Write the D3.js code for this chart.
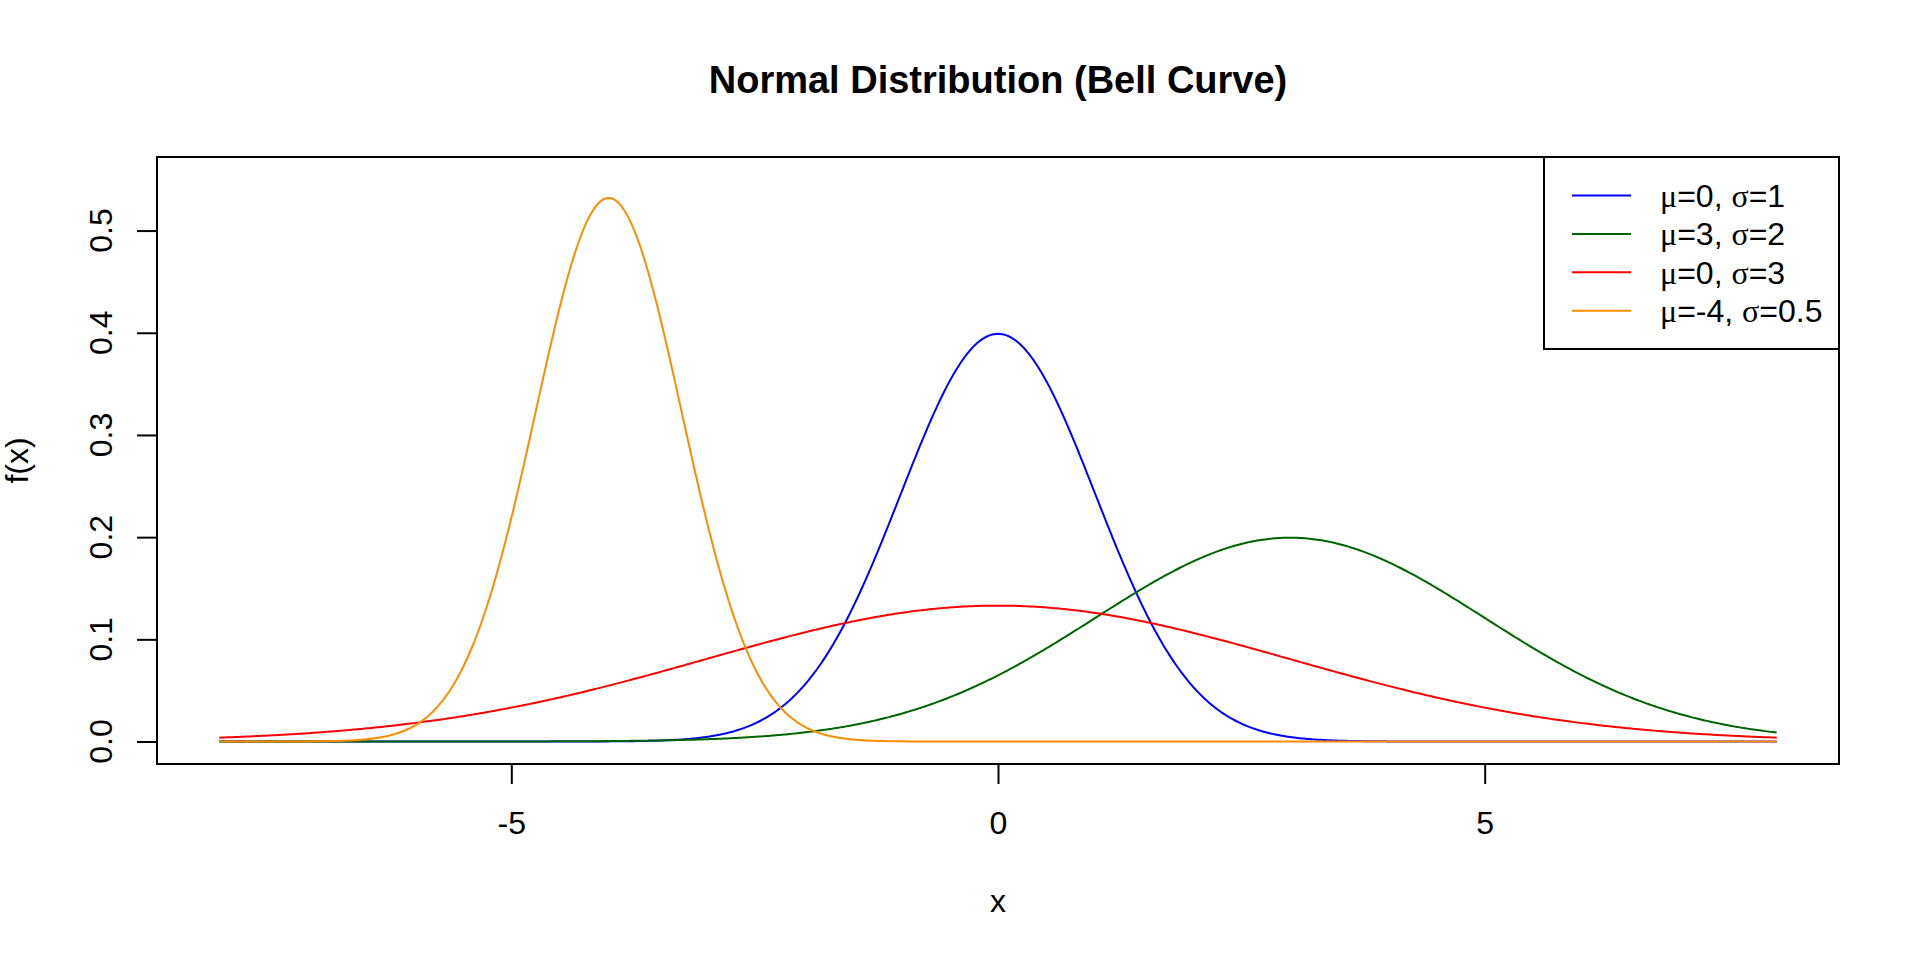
<!DOCTYPE html>
<meta charset="utf-8">
<style>
 body { margin: 0; background: white; }
 svg { display: block; font-family: 'Liberation Sans', Arial, Helvetica, sans-serif; }
 .greek { font-family: 'Liberation Serif', 'DejaVu Serif', serif; }
</style>

<svg width="1920" height="960"></svg>

<script src="https://d3js.org/d3.v7.min.js"></script>
<script>
 // distribution parameters (orange peak sits at ~0.532, i.e. sigma 0.75)
 var mus = [0, 3, 0, -4];
 var sigmas = [1, 2, 3, 0.75];
 var colors = ['#0000ff', '#006400', '#ff0000', '#ff8c00'];
 var labels = [['0', '1'], ['3', '2'], ['0', '3'], ['-4', '0.5']];
 var xTicks = [-5, 0, 5];
 var yTicks = [0, 0.1, 0.2, 0.3, 0.4, 0.5];
 var xLim = [-8, 8];
 var yLim = [0, 0.55];

 var svg = d3.select('svg');
 var plotL = 157, plotR = 1839, plotT = 157, plotB = 764;

 // R style 4% axis extension
 function extend(lim) {
     var d = (lim[1] - lim[0]) * 0.04;
     return [lim[0] - d, lim[1] + d];
 }
 var x = d3.scaleLinear().domain(extend(xLim)).range([plotL, plotR]);
 var y = d3.scaleLinear().domain(extend(yLim)).range([plotB, plotT]);

 function dnorm(v, mu, s) {
     return Math.exp(-0.5 * Math.pow((v - mu) / s, 2)) / (s * Math.sqrt(2 * Math.PI));
 }
 var grid = d3.range(xLim[0], xLim[1] + 1e-9, (xLim[1] - xLim[0]) / 800);

 var line = d3.line()
     .x(function(d) { return x(d[0]); })
     .y(function(d) { return y(d[1]); });

 // curves
 mus.forEach(function(mu, i) {
     svg.append('path')
         .datum(grid.map(function(v) { return [v, dnorm(v, mu, sigmas[i])]; }))
         .attr('d', line)
         .attr('fill', 'none')
         .attr('stroke', colors[i])
         .attr('stroke-width', 2);
 });

 // axes
 var xAxis = svg.append('g')
     .attr('transform', 'translate(0,' + plotB + ')')
     .call(d3.axisBottom(x).tickValues(xTicks).tickSize(20).tickSizeOuter(0).tickPadding(27)
         .tickFormat(function(d) { return String(d); }));
 xAxis.select('.domain').remove();
 xAxis.selectAll('line').attr('stroke-width', 2);
 xAxis.selectAll('text').attr('font-size', 32).attr('fill', '#000');
 xAxis.attr('font-family', null).attr('font-size', null);

 var yAxis = svg.append('g')
     .attr('transform', 'translate(' + plotL + ',0)')
     .call(d3.axisLeft(y).tickValues(yTicks).tickSize(20).tickSizeOuter(0).tickFormat(''));
 yAxis.select('.domain').remove();
 yAxis.selectAll('line').attr('stroke-width', 2);

 svg.append('g').selectAll('text')
     .data(yTicks)
     .join('text')
     .attr('transform', function(d) { return 'translate(112,' + y(d) + ') rotate(-90)'; })
     .attr('text-anchor', 'middle')
     .attr('font-size', 32)
     .text(function(d) { return d3.format('.1f')(d); });

 // frame
 svg.append('rect')
     .attr('x', plotL).attr('y', plotT)
     .attr('width', plotR - plotL).attr('height', plotB - plotT)
     .attr('fill', 'none').attr('stroke', '#000').attr('stroke-width', 2);

 // titles
 svg.append('text')
     .attr('x', (plotL + plotR) / 2).attr('y', 93)
     .attr('text-anchor', 'middle')
     .attr('font-size', 38).attr('font-weight', 'bold')
     .text('Normal Distribution (Bell Curve)');

 svg.append('text')
     .attr('x', (plotL + plotR) / 2).attr('y', 912)
     .attr('text-anchor', 'middle')
     .attr('font-size', 32)
     .text('x');

 svg.append('text')
     .attr('transform', 'translate(28,' + (plotT + plotB) / 2 + ') rotate(-90)')
     .attr('text-anchor', 'middle')
     .attr('font-size', 32)
     .text('f(x)');

 // legend
 var legend = svg.append('g');
 legend.append('rect')
     .attr('x', plotR - 295).attr('y', plotT)
     .attr('width', 295).attr('height', 192)
     .attr('fill', 'white').attr('stroke', '#000').attr('stroke-width', 2);

 labels.forEach(function(lab, i) {
     var ry = plotT + 38.5 + i * 38.4;
     legend.append('line')
         .attr('x1', plotR - 267).attr('x2', plotR - 208)
         .attr('y1', ry).attr('y2', ry)
         .attr('stroke', colors[i]).attr('stroke-width', 2);
     var t = legend.append('text')
         .attr('x', plotR - 179).attr('y', ry)
         .attr('dy', '0.36em')
         .attr('font-size', 32);
     t.append('tspan').attr('class', 'greek').text('μ');
     t.append('tspan').text('=' + lab[0] + ', ');
     t.append('tspan').attr('class', 'greek').text('σ');
     t.append('tspan').text('=' + lab[1]);
 });
</script>
